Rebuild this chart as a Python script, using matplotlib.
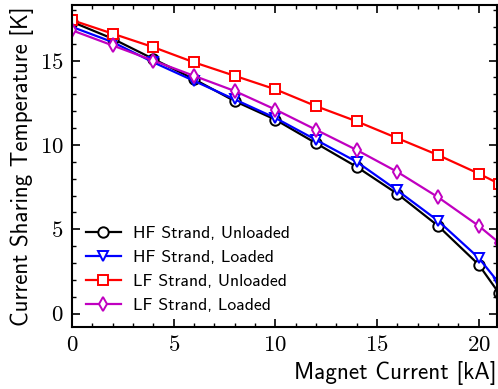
import matplotlib
matplotlib.use("Agg")
import matplotlib.pyplot as plt
from matplotlib.ticker import MultipleLocator

plt.rcParams.update({
    "mathtext.fontset": "cm",
    "axes.formatter.use_mathtext": True,
    "xtick.direction": "in",
    "ytick.direction": "in",
    "xtick.top": True,
    "ytick.right": True,
})

# magnet current [kA]
current = [0, 2, 4, 6, 8, 10, 12, 14, 16, 18, 20, 21]

# current sharing temperature [K]
hf_unloaded = [17.3, 16.3, 15.1, 13.9, 12.6, 11.5, 10.1, 8.7, 7.1, 5.2, 2.9, 1.2]
hf_loaded = [17.0, 16.1, 14.9, 13.8, 12.7, 11.6, 10.3, 9.0, 7.3, 5.5, 3.3, 1.8]
lf_unloaded = [17.4, 16.6, 15.8, 14.9, 14.1, 13.3, 12.3, 11.4, 10.4, 9.4, 8.3, 7.7]
lf_loaded = [16.8, 15.9, 15.0, 14.1, 13.2, 12.1, 10.9, 9.7, 8.4, 6.9, 5.2, 4.2]

series = [
    ("HF Strand, Unloaded", hf_unloaded, "black", "o"),
    ("HF Strand, Loaded", hf_loaded, "blue", "v"),
    ("LF Strand, Unloaded", lf_unloaded, "red", "s"),
    ("LF Strand, Loaded", lf_loaded, "#c000c0", "d"),
]

fig = plt.figure(figsize=(4.98, 3.89), dpi=100)
ax = fig.add_axes([72 / 498, 62 / 389, 425 / 498, 322 / 389])

for label, vals, col, mk in series:
    ax.plot(current, vals, color=col, marker=mk, markersize=7.5, mfc="white",
            mec=col, mew=1.4, linewidth=1.6, label=label)

ax.set_xlim(0, 20.9)
ax.set_ylim(-0.8, 18.3)
ax.xaxis.set_major_locator(MultipleLocator(5))
ax.xaxis.set_minor_locator(MultipleLocator(1))
ax.yaxis.set_major_locator(MultipleLocator(5))
ax.yaxis.set_minor_locator(MultipleLocator(1))
ax.tick_params(which="major", length=6, width=1.2, labelsize=16.5, pad=6)
ax.tick_params(which="minor", length=3, width=1.0)
for lab in ax.get_xticklabels() + ax.get_yticklabels():
    lab.set_family("cmr10")
for sp in ax.spines.values():
    sp.set_linewidth(1.5)

ax.set_xlabel("Magnet Current [kA]", family="cmss10", fontsize=16.7, loc="right")
ax.set_ylabel("Current Sharing Temperature [K]", family="cmss10", fontsize=16.5)

leg = ax.legend(loc="lower left", bbox_to_anchor=(0.016, 0.022), borderaxespad=0.0,
                frameon=False, prop={"family": "cmss10", "size": 12.7},
                handlelength=2.0, handletextpad=0.65, labelspacing=0.49)

fig.savefig("out.png", dpi=100)
